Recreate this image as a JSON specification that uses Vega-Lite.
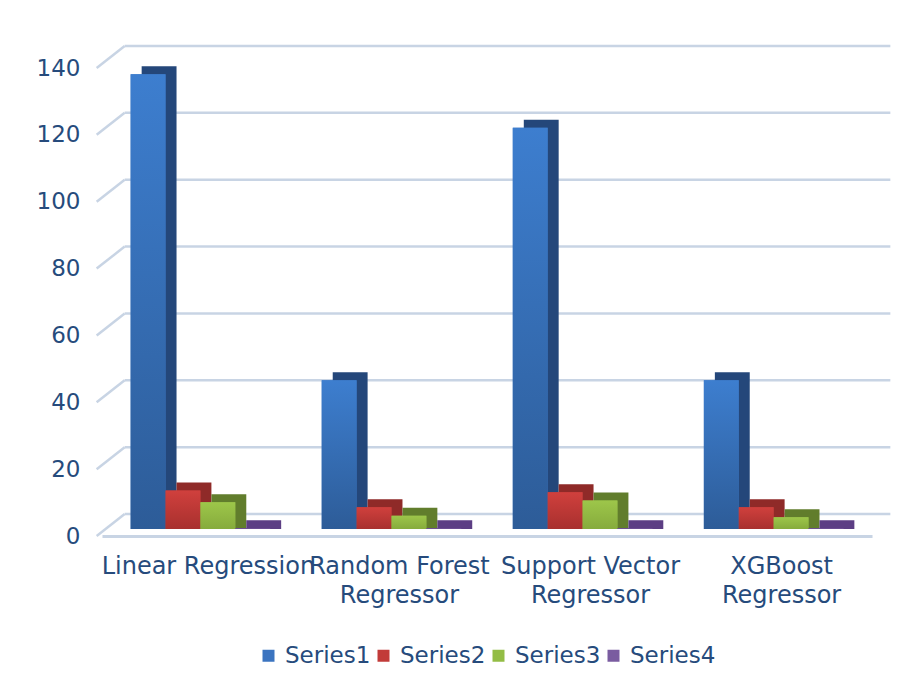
{
  "$schema": "https://vega.github.io/schema/vega-lite/v6.json",
  "autosize": {"type": "none"},
  "width": 770,
  "height": 468,
  "padding": {"left": 102, "top": 61, "right": 48, "bottom": 159},
  "background": "white",
  "config": {
    "view": {"stroke": null},
    "font": "DejaVu Sans",
    "axis": {"labelFont": "DejaVu Sans", "labelColor": "#264b7c"}
  },
  "layer": [
    {
      "data": {"values": [{"g": 0}, {"g": 20}, {"g": 40}, {"g": 60}, {"g": 80}, {"g": 100}, {"g": 120}, {"g": 140}]},
      "layer": [
        {
          "mark": {"type": "rule", "color": "#c8d4e4", "strokeWidth": 2.5, "xOffset": -6, "x2Offset": 47, "yOffset": -15},
          "encoding": {
            "y": {"field": "g", "type": "quantitative"},
            "x": {"datum": "Linear Regression", "bandPosition": 0},
            "x2": {"datum": "XGBoost Regressor", "bandPosition": 1}
          }
        },
        {
          "mark": {"type": "rule", "color": "#c8d4e4", "strokeWidth": 2.5, "xOffset": -34, "x2Offset": -6, "yOffset": 7, "y2Offset": -15},
          "encoding": {
            "y": {"field": "g", "type": "quantitative"},
            "y2": {"field": "g"},
            "x": {"datum": "Linear Regression", "bandPosition": 0},
            "x2": {"datum": "Linear Regression", "bandPosition": 0}
          }
        }
      ]
    },
    {
      "data": {
        "values": [
          {"model": "Linear Regression", "series": "Series1", "value": 136},
          {"model": "Linear Regression", "series": "Series2", "value": 11.5},
          {"model": "Linear Regression", "series": "Series3", "value": 8},
          {"model": "Linear Regression", "series": "Series4", "value": 0.2},
          {"model": "Random Forest Regressor", "series": "Series1", "value": 44.5},
          {"model": "Random Forest Regressor", "series": "Series2", "value": 6.5},
          {"model": "Random Forest Regressor", "series": "Series3", "value": 4},
          {"model": "Random Forest Regressor", "series": "Series4", "value": 0.2},
          {"model": "Support Vector Regressor", "series": "Series1", "value": 120},
          {"model": "Support Vector Regressor", "series": "Series2", "value": 11},
          {"model": "Support Vector Regressor", "series": "Series3", "value": 8.5},
          {"model": "Support Vector Regressor", "series": "Series4", "value": 0.2},
          {"model": "XGBoost Regressor", "series": "Series1", "value": 44.5},
          {"model": "XGBoost Regressor", "series": "Series2", "value": 6.5},
          {"model": "XGBoost Regressor", "series": "Series3", "value": 3.5},
          {"model": "XGBoost Regressor", "series": "Series4", "value": 0.2}
        ]
      },
      "encoding": {
        "x": {
          "field": "model", "type": "nominal", "title": null,
          "scale": {"paddingInner": 0.27, "paddingOuter": 0.15},
          "axis": {
            "labelAngle": 0, "labelAlign": "center", "labelBaseline": "top", "bandPosition": 0.5, "ticks": false,
            "domainColor": "#c8d4e4", "domainWidth": 3, "offset": 7,
            "labelPadding": 18, "labelLineHeight": 29, "labelFontSize": 24, "labelLimit": 0, "labelOffset": 8,
            "labelExpr": "datum.value == 'Linear Regression' ? datum.value : [slice(datum.value, 0, indexof(datum.value, ' Regressor')), 'Regressor']"
          }
        },
        "y": {
          "field": "value", "type": "quantitative", "title": null,
          "scale": {"domain": [0, 140]},
          "axis": {"values": [0, 20, 40, 60, 80, 100, 120, 140], "domain": false, "ticks": false, "grid": false,
                   "labelPadding": 22, "labelOffset": 7, "labelFontSize": 23}
        }
      },
      "layer": [
        {
          "mark": {"type": "bar", "yOffset": -8, "y2Offset": 0},
          "encoding": {
            "y2": {"datum": 0},
            "xOffset": {"field": "series", "type": "nominal",
                        "scale": {"domain": ["Series1", "Series2", "Series3", "Series4"], "paddingInner": 0, "range": [11, 150.5]}},
            "color": {"field": "series", "type": "nominal", "legend": null,
                      "scale": {"domain": ["Series1", "Series2", "Series3", "Series4"],
                                "range": ["#24477a", "#8f2a28", "#617d2c", "#5c3e84"]}}
          }
        },
        {
          "mark": {"type": "bar"},
          "encoding": {
            "xOffset": {"field": "series", "type": "nominal",
                        "scale": {"domain": ["Series1", "Series2", "Series3", "Series4"], "paddingInner": 0}},
            "color": {"field": "series", "type": "nominal", "title": null,
                      "scale": {"domain": ["Series1", "Series2", "Series3", "Series4"],
                                "range": ["#3b74c0", "#c23b39", "#93bd45", "#7a5ca0"]},
                      "legend": {"orient": "none", "legendX": 155, "legendY": 583, "direction": "horizontal",
                                 "symbolType": "square", "symbolSize": 144, "labelFontSize": 23,
                                 "labelColor": "#264b7c", "labelFont": "DejaVu Sans", "columnPadding": 1,
                                 "symbolStrokeWidth": 0, "labelOffset": 5}}
          }
        },
        {
          "transform": [{"filter": "datum.series == 'Series1'"}],
          "encoding": {"xOffset": {"field": "series", "type": "nominal",
                        "scale": {"domain": ["Series1", "Series2", "Series3", "Series4"], "paddingInner": 0}}},
          "mark": {"type": "bar", "color": {"gradient": "linear", "x1": 0, "y1": 0, "x2": 0, "y2": 1,
                   "stops": [{"offset": 0, "color": "#3d7ecf"}, {"offset": 1, "color": "#2d5c98"}]}}
        },
        {
          "transform": [{"filter": "datum.series == 'Series2'"}],
          "encoding": {"xOffset": {"field": "series", "type": "nominal",
                        "scale": {"domain": ["Series1", "Series2", "Series3", "Series4"], "paddingInner": 0}}},
          "mark": {"type": "bar", "color": {"gradient": "linear", "x1": 0, "y1": 0, "x2": 0, "y2": 1,
                   "stops": [{"offset": 0, "color": "#d0403d"}, {"offset": 1, "color": "#a8302e"}]}}
        },
        {
          "transform": [{"filter": "datum.series == 'Series3'"}],
          "encoding": {"xOffset": {"field": "series", "type": "nominal",
                        "scale": {"domain": ["Series1", "Series2", "Series3", "Series4"], "paddingInner": 0}}},
          "mark": {"type": "bar", "color": {"gradient": "linear", "x1": 0, "y1": 0, "x2": 0, "y2": 1,
                   "stops": [{"offset": 0, "color": "#9dc64a"}, {"offset": 1, "color": "#86ab3c"}]}}
        },
        {
          "transform": [{"filter": "datum.series == 'Series4'"}],
          "encoding": {"xOffset": {"field": "series", "type": "nominal",
                        "scale": {"domain": ["Series1", "Series2", "Series3", "Series4"], "paddingInner": 0}}},
          "mark": {"type": "bar", "color": "#6a4a90"}
        }
      ],
      "resolve": {"scale": {"color": "independent", "xOffset": "independent"}}
    }
  ]
}
